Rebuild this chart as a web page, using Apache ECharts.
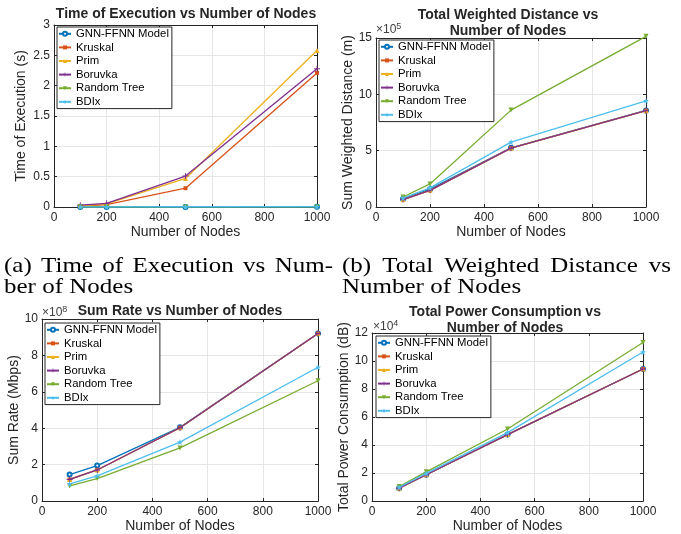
<!DOCTYPE html>
<html>
<head>
<meta charset="utf-8">
<script src="https://cdn.jsdelivr.net/npm/echarts@6/dist/echarts.min.js"></script>
<style>
html,body{margin:0;padding:0;background:#fff;}
#c{width:681px;height:534px;}
</style>
</head>
<body>
<div id="c"></div>
<script>
// ---------------- data ----------------
const xNodes = [100, 200, 500, 1000];
const seriesNames = ['GNN-FFNN Model', 'Kruskal', 'Prim', 'Boruvka', 'Random Tree', 'BDIx'];
const xTicks = [0, 200, 400, 600, 800, 1000];

// (a) Time of Execution (s)
const timeGNN     = [0.002, 0.002, 0.002, 0.003];
const timeKruskal = [0.01, 0.04, 0.31, 2.21];
const timePrim    = [0.02, 0.05, 0.47, 2.58];
const timeBoruvka = [0.03, 0.06, 0.51, 2.28];
const timeRandom  = [0.001, 0.001, 0.002, 0.002];
const timeBDIx    = [0.002, 0.003, 0.004, 0.006];
const timeTicks   = [0, 0.5, 1, 1.5, 2, 2.5, 3];

// (b) Sum Weighted Distance (m), x10^5
const distGNN     = [0.72, 1.58, 5.25, 8.57];
const distKruskal = [0.66, 1.48, 5.22, 8.55];
const distPrim    = [0.66, 1.48, 5.22, 8.55];
const distBoruvka = [0.66, 1.48, 5.22, 8.55];
const distRandom  = [0.89, 2.05, 8.60, 15.15];
const distBDIx    = [0.80, 1.70, 5.76, 9.43];
const distTicks   = [0, 5, 10, 15];

// (c) Sum Rate (Mbps), x10^8
const rateGNN     = [1.46, 1.95, 4.05, 9.20];
const rateKruskal = [1.19, 1.71, 4.03, 9.20];
const ratePrim    = [1.19, 1.71, 4.03, 9.20];
const rateBoruvka = [1.19, 1.71, 4.03, 9.20];
const rateRandom  = [0.83, 1.24, 2.92, 6.61];
const rateBDIx    = [0.95, 1.39, 3.24, 7.35];
const rateTicks   = [0, 2, 4, 6, 8, 10];

// (d) Total Power Consumption (dB), x10^4
const powerGNN     = [0.92, 1.88, 4.75, 9.43];
const powerKruskal = [0.92, 1.88, 4.75, 9.43];
const powerPrim    = [0.92, 1.88, 4.75, 9.43];
const powerBoruvka = [0.92, 1.88, 4.75, 9.43];
const powerRandom  = [1.04, 2.09, 5.15, 11.32];
const powerBDIx    = [0.99, 1.98, 4.89, 10.64];
const powerTicks   = [0, 2, 4, 6, 8, 10, 12];

// ---------------- style ----------------
const FONT = "'Liberation Sans', Arial, Helvetica, sans-serif";
const SERIF = "'Liberation Serif', 'Times New Roman', serif";
const AX = '#262626';
const GRIDC = '#e6e6e6';
const colors = ['#0072BD', '#D95319', '#EDB120', '#7E2F8E', '#77AC30', '#4DBEEE'];
const plus = 'path://M-0.6,-4 L0.6,-4 L0.6,-0.6 L4,-0.6 L4,0.6 L0.6,0.6 L0.6,4 L-0.6,4 L-0.6,0.6 L-4,0.6 L-4,-0.6 L-0.6,-0.6 Z';
const star = 'path://M0,-5 L1.2,-1.6 L4.8,-1.5 L1.9,0.6 L2.9,4 L0,2 L-2.9,4 L-1.9,0.6 L-4.8,-1.5 L-1.2,-1.6 Z';
const symbols = ['emptyCircle', 'rect', 'triangle', plus, 'triangle', star];
const symbolRot = [0, 0, 0, 0, 180, 0];
const symbolSizes = [4, 4, 5, 6, 5, 6];

const panels = [
  {grid: {left: 54, top: 25, width: 263, height: 182}, ticks: timeTicks, yName: 'Time of Execution (s)', yGap: 26, xGap: 13,
   data: [timeGNN, timeKruskal, timePrim, timeBoruvka, timeRandom, timeBDIx], legend: {left: 57, top: 27}},
  {grid: {left: 376, top: 38, width: 270, height: 169}, ticks: distTicks, yName: 'Sum Weighted Distance (m)', yGap: 20, xGap: 13,
   data: [distGNN, distKruskal, distPrim, distBoruvka, distRandom, distBDIx], legend: {left: 379, top: 40}},
  {grid: {left: 42, top: 319, width: 276, height: 185}, ticks: rateTicks, yName: 'Sum Rate (Mbps)', yGap: 14, xGap: 13,
   data: [rateGNN, rateKruskal, ratePrim, rateBoruvka, rateRandom, rateBDIx], legend: {left: 45, top: 323}},
  {grid: {left: 372, top: 333, width: 271, height: 170}, ticks: powerTicks, yName: 'Total Power Consumption (dB)', yGap: 16, xGap: 12,
   data: [powerGNN, powerKruskal, powerPrim, powerBoruvka, powerRandom, powerBDIx], legend: {left: 376, top: 336}}
];

const grids = [], xAxes = [], yAxes = [], series = [], legends = [];
const plainNum = v => String(v);
panels.forEach((p, gi) => {
  grids.push(Object.assign({containLabel: false}, p.grid));
  const yMin = p.ticks[0], yMax = p.ticks[p.ticks.length - 1], yInt = p.ticks[1] - p.ticks[0];
  const common = {type: 'value', gridIndex: gi, axisLine: {show: true, onZero: false, lineStyle: {color: AX, width: 1}},
    axisTick: {show: true, inside: true, length: 3, lineStyle: {color: AX}}};
  xAxes.push(Object.assign({}, common, {position: 'bottom', min: xTicks[0], max: xTicks[xTicks.length - 1], interval: xTicks[1] - xTicks[0],
    axisLabel: {color: AX, fontSize: 12, fontFamily: FONT, margin: 5, formatter: plainNum},
    splitLine: {show: true, lineStyle: {color: GRIDC, width: 1}},
    name: 'Number of Nodes', nameLocation: 'middle', nameGap: p.xGap, nameTextStyle: {color: AX, fontSize: 14, fontFamily: FONT}}));
  xAxes.push(Object.assign({}, common, {position: 'top', min: xTicks[0], max: xTicks[xTicks.length - 1], interval: xTicks[1] - xTicks[0],
    axisLabel: {show: false}, splitLine: {show: false}}));
  yAxes.push(Object.assign({}, common, {position: 'left', min: yMin, max: yMax, interval: yInt,
    axisLabel: {color: AX, fontSize: 12, fontFamily: FONT, margin: 4, formatter: plainNum},
    splitLine: {show: true, lineStyle: {color: GRIDC, width: 1}},
    name: p.yName, nameLocation: 'middle', nameGap: p.yGap, nameTextStyle: {color: AX, fontSize: 14, fontFamily: FONT}}));
  yAxes.push(Object.assign({}, common, {position: 'right', min: yMin, max: yMax, interval: yInt,
    axisLabel: {show: false}, splitLine: {show: false}}));
  p.data.forEach((d, si) => {
    series.push({
      type: 'line', name: seriesNames[si], xAxisIndex: gi * 2, yAxisIndex: gi * 2,
      data: xNodes.map((x, i) => [x, d[i]]),
      symbol: symbols[si], symbolSize: symbolSizes[si], symbolRotate: symbolRot[si], showSymbol: true,
      clip: false, z: 3 + si,
      lineStyle: {width: 1.3, color: colors[si]},
      itemStyle: {color: colors[si], borderColor: colors[si], borderWidth: si === 0 ? 1.2 : 0},
      emphasis: {disabled: true}, animation: false
    });
  });
  legends.push({
    left: p.legend.left, top: p.legend.top, orient: 'vertical', data: seriesNames,
    backgroundColor: '#fff', borderColor: AX, borderWidth: 1, padding: [0, 3, 0, 1],
    itemGap: 0, itemWidth: 12, itemHeight: 5, selectedMode: false,
    textStyle: {color: '#000', fontSize: 11.3, fontFamily: FONT, lineHeight: 13.6}
  });
});

// ---------------- text: titles, exponents, captions ----------------
const graphics = [];
function txt(x, y, text, opts) {
  graphics.push({type: 'text', x: x, y: y, z: 100, silent: true,
    style: Object.assign({text: text, fill: AX, font: 'bold 14px ' + FONT, textAlign: 'center', textVerticalAlign: 'middle'}, opts || {})});
}
// titles
txt(186, 14, 'Time of Execution vs Number of Nodes');
txt(508, 15, 'Total Weighted Distance vs');
txt(508, 31, 'Number of Nodes');
txt(180, 311, 'Sum Rate vs Number of Nodes');
txt(505, 312, 'Total Power Consumption vs');
txt(505, 328, 'Number of Nodes');
// exponents
function expo(x, y, e) {
  graphics.push({type: 'text', x: x, y: y, z: 100, silent: true,
    style: {text: '\u00d710{s|' + e + '}', fill: '#404040', font: '12px ' + FONT, textAlign: 'left', textVerticalAlign: 'middle',
      rich: {s: {fontSize: 9, fontFamily: FONT, verticalAlign: 'top', padding: [0, 0, 6, 0], fill: '#404040'}}}});
}
expo(376, 30, 5);
expo(42, 313, 8);
expo(373, 327, 4);

// captions (justified first line)
const cv = document.createElement('canvas').getContext('2d');
const capSize = 25;
const capFont = capSize + 'px ' + SERIF;
const capScaleY = 0.85;
function capText(text, x, y) {
  graphics.push({type: 'text', x: x, y: y, scaleY: capScaleY, z: 100, silent: true,
    style: {text: text, fill: '#000', font: capFont, textAlign: 'left', textVerticalAlign: 'middle'}});
}
function justify(words, x0, x1, y) {
  cv.font = capFont;
  const ws = words.map(w => cv.measureText(w).width);
  const tot = ws.reduce((a, b) => a + b, 0);
  const gap = (x1 - x0 - tot) / (words.length - 1);
  let x = x0;
  words.forEach((w, i) => { capText(w, x, y); x += ws[i] + gap; });
}
justify(['(a)', 'Time', 'of', 'Execution', 'vs', 'Num-'], 4, 333, 266);
capText('ber of Nodes', 4, 287);
justify(['(b)', 'Total', 'Weighted', 'Distance', 'vs'], 342, 671, 266);
capText('Number of Nodes', 342, 287);

const chart = echarts.init(document.getElementById('c'), null, {renderer: 'canvas'});
chart.setOption({
  animation: false,
  backgroundColor: '#fff',
  grid: grids, xAxis: xAxes, yAxis: yAxes, series: series, legend: legends,
  graphic: graphics
});
</script>
</body>
</html>
